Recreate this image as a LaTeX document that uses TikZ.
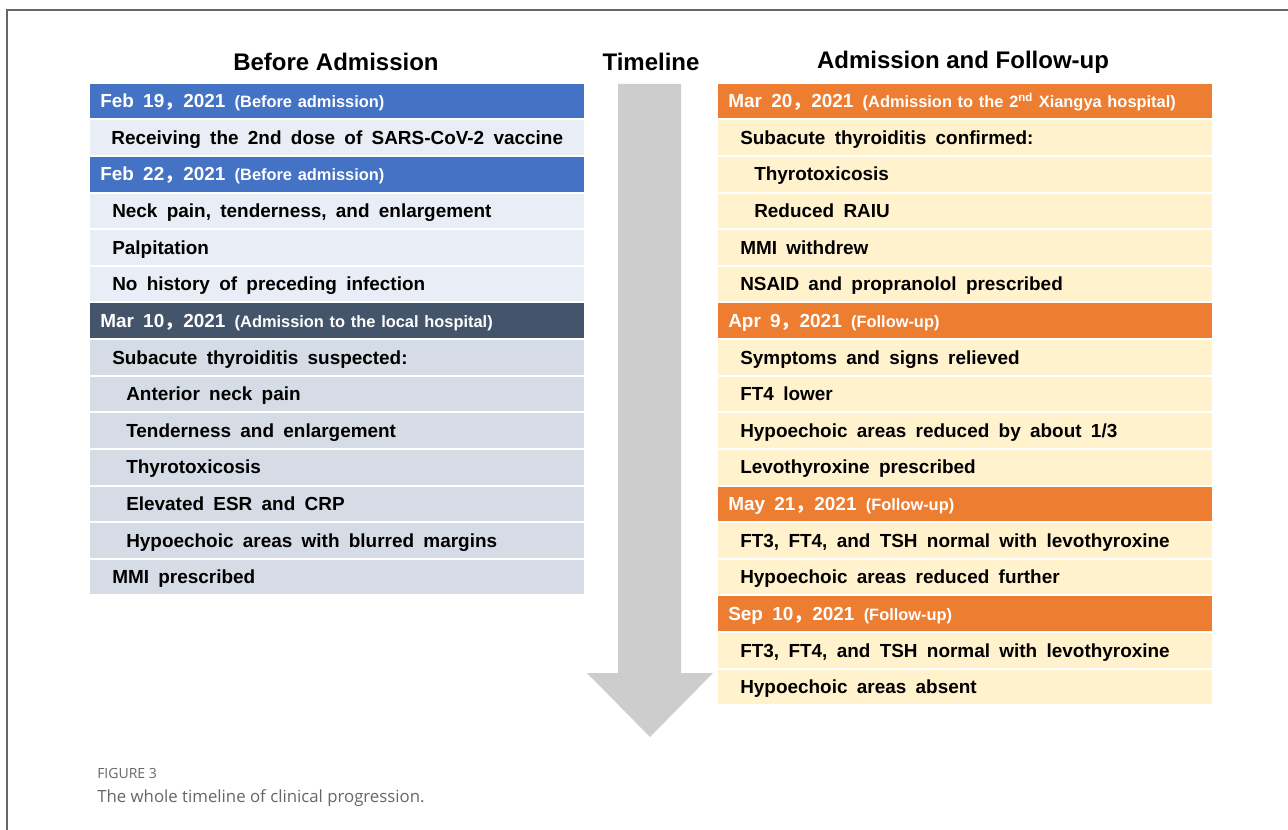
\documentclass[tikz,border=0pt]{standalone}
\usepackage{fontspec}
\setmainfont{Liberation Sans}
\newfontfamily\rowfont{Liberation Sans}
\newfontfamily\cjk{Noto Sans CJK SC}
\newfontfamily\capfont{Open Sans}
\usepackage{xcolor}
\definecolor{hdrblue}{HTML}{4472C4}
\definecolor{paleblue}{HTML}{E9EDF6}
\definecolor{slate}{HTML}{44546A}
\definecolor{grayblue}{HTML}{D6DCE5}
\definecolor{hdrorange}{HTML}{ED7D31}
\definecolor{paleorange}{HTML}{FFF2CC}
\definecolor{arrowgray}{HTML}{CDCDCD}
\definecolor{capgray}{HTML}{666666}
\newcommand{\fwcomma}{{\cjk ，}}
\newcommand{\widespace}{\spaceskip 7pt\relax}
\newcommand{\paren}[1]{{\fontsize{12.3}{14}\selectfont\spaceskip 4.3pt\relax #1}}
\newcommand{\ind}{\hspace*{10.5pt}}

\begin{document}
\begin{tikzpicture}[x=0.75pt, y=-0.75pt,
  datebox/.style={anchor=west, minimum width=370.5pt, minimum height=25.9pt, inner xsep=7.5pt, text width=355.5pt, text height=12.5pt, text depth=2.5pt, align=left, text=white, font=\rowfont\bfseries\fontsize{14.2}{16}\selectfont, execute at begin node=\widespace},
  rowbox/.style={anchor=west, minimum width=370.5pt, minimum height=25.9pt, inner xsep=16.5pt, text width=337.5pt, text height=12.5pt, text depth=2.5pt, align=left, font=\rowfont\bfseries\fontsize{14.2}{16}\selectfont, execute at begin node=\widespace},
  coltitle/.style={font=\bfseries\fontsize{18}{22}\selectfont}]
\useasboundingbox (0,0) rectangle (1288,830);
\draw [capgray, line width=0.8pt] (7,830) -- (7,10) -- (1288,10);

% timeline arrow
\fill [arrowgray] (618,84) -- (681,84) -- (681,673) -- (713,673) -- (650,737) -- (587,673) -- (618,673) -- cycle;

% titles
\node[coltitle] (ttl) at (336,62) {Before Admission};
\node[coltitle] (tml) at (651,62) {Timeline};
\node[coltitle] (ttr) at (963,62) {Admission and Follow-up};

% before admission
\node[datebox, fill=hdrblue] (l1) at (90,101) {Feb 19\fwcomma 2021 \paren{(Before admission)}};
\node[rowbox, fill=paleblue, align=center, inner xsep=4.5pt, text width=361.5pt] (l2) at (90,137.6) {Receiving the 2nd dose of SARS-CoV-2 vaccine};
\node[datebox, fill=hdrblue] (l3) at (90,174.25) {Feb 22\fwcomma 2021 \paren{(Before admission)}};
\node[rowbox, fill=paleblue] (l4) at (90,210.9) {Neck pain, tenderness, and enlargement};
\node[rowbox, fill=paleblue] (l5) at (90,247.5) {Palpitation};
\node[rowbox, fill=paleblue] (l6) at (90,284.1) {No history of preceding infection};
\node[datebox, fill=slate] (l7) at (90,320.75) {Mar 10\fwcomma 2021 \paren{(Admission to the local hospital)}};
\node[rowbox, fill=grayblue] (l8) at (90,357.4) {Subacute thyroiditis suspected:};
\node[rowbox, fill=grayblue] (l9) at (90,394) {\ind Anterior neck pain};
\node[rowbox, fill=grayblue] (l10) at (90,430.6) {\ind Tenderness and enlargement};
\node[rowbox, fill=grayblue] (l11) at (90,467.25) {\ind Thyrotoxicosis};
\node[rowbox, fill=grayblue] (l12) at (90,503.9) {\ind Elevated ESR and CRP};
\node[rowbox, fill=grayblue] (l13) at (90,540.5) {\ind Hypoechoic areas with blurred margins};
\node[rowbox, fill=grayblue] (l14) at (90,577.1) {MMI prescribed};

% admission and follow-up
\node[datebox, fill=hdrorange] (r1) at (718,101) {Mar 20\fwcomma 2021 \paren{(Admission to the 2\textsuperscript{nd} Xiangya hospital)}};
\node[rowbox, fill=paleorange] (r2) at (718,137.6) {Subacute thyroiditis confirmed:};
\node[rowbox, fill=paleorange] (r3) at (718,174.25) {\ind Thyrotoxicosis};
\node[rowbox, fill=paleorange] (r4) at (718,210.9) {\ind Reduced RAIU};
\node[rowbox, fill=paleorange] (r5) at (718,247.5) {MMI withdrew};
\node[rowbox, fill=paleorange] (r6) at (718,284.1) {NSAID and propranolol prescribed};
\node[datebox, fill=hdrorange] (r7) at (718,320.75) {Apr 9\fwcomma 2021 \paren{(Follow-up)}};
\node[rowbox, fill=paleorange] (r8) at (718,357.4) {Symptoms and signs relieved};
\node[rowbox, fill=paleorange] (r9) at (718,394) {FT4 lower};
\node[rowbox, fill=paleorange] (r10) at (718,430.6) {Hypoechoic areas reduced by about 1/3};
\node[rowbox, fill=paleorange] (r11) at (718,467.25) {Levothyroxine prescribed};
\node[datebox, fill=hdrorange] (r12) at (718,503.9) {May 21\fwcomma 2021 \paren{(Follow-up)}};
\node[rowbox, fill=paleorange] (r13) at (718,540.5) {FT3, FT4, and TSH normal with levothyroxine};
\node[rowbox, fill=paleorange] (r14) at (718,577.1) {Hypoechoic areas reduced further};
\node[datebox, fill=hdrorange] (r15) at (718,613.75) {Sep 10\fwcomma 2021 \paren{(Follow-up)}};
\node[rowbox, fill=paleorange] (r16) at (718,650.4) {FT3, FT4, and TSH normal with levothyroxine};
\node[rowbox, fill=paleorange] (r17) at (718,687) {Hypoechoic areas absent};

% caption
\node[anchor=west, inner sep=0pt, text=capgray, font=\capfont\fontsize{10.5}{12}\selectfont] (fig) at (97,773) {FIGURE 3};
\node[anchor=west, inner sep=0pt, text=capgray, font=\capfont\fontsize{12.6}{15}\selectfont] (cap) at (97,798) {The whole timeline of clinical progression.};
\end{tikzpicture}
\end{document}
